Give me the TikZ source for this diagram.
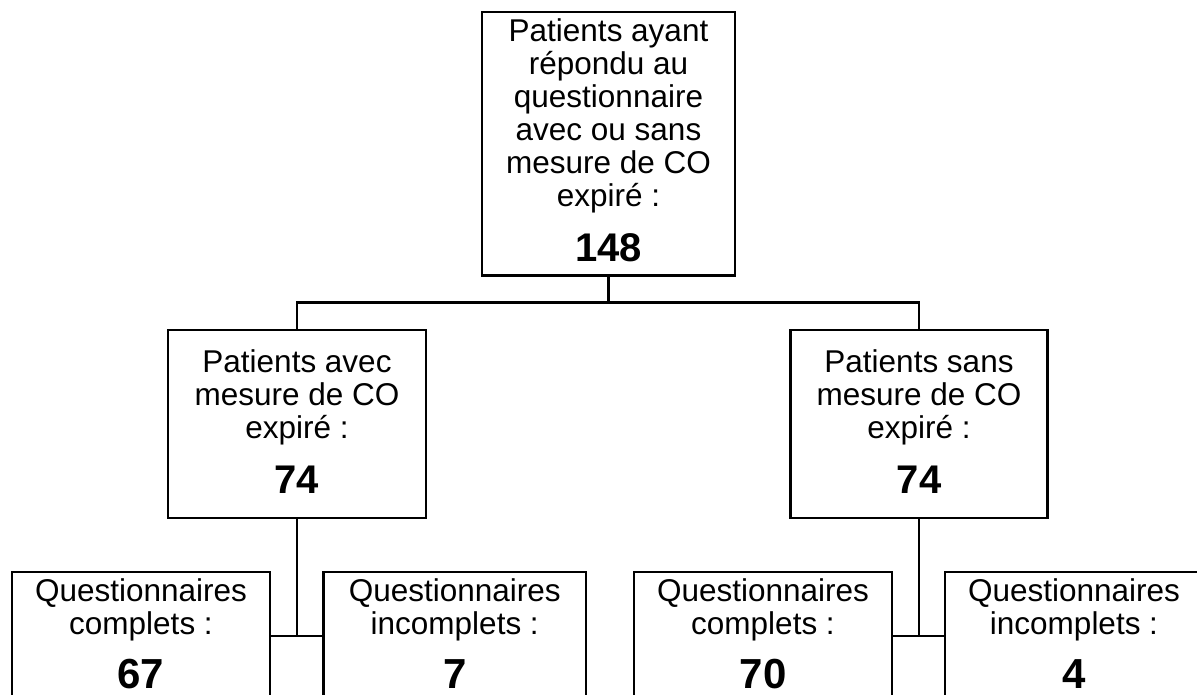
\documentclass[tikz,border=0pt]{standalone}
\usepackage{fontspec}
\setmainfont{Liberation Sans}
\begin{document}
\begin{tikzpicture}[x=1pt,y=-1pt,
  box/.style={draw, line width=2.7pt, rectangle, inner sep=0pt, outer sep=0pt},
  conn/.style={line width=2.7pt},
  lbl/.style={anchor=base, inner sep=0pt, font=\fontsize{31.5}{32.8}\selectfont},
  num/.style={anchor=base, inner sep=0pt, font=\bfseries\fontsize{40}{42}\selectfont},
  bignum/.style={anchor=base, inner sep=0pt, font=\bfseries\fontsize{42}{44}\selectfont}]
\useasboundingbox (0,0) rectangle (1197,695);
\clip (0,0) rectangle (1197,695);
\renewcommand\arraystretch{1}
% boxes
\node[box, minimum width=253, minimum height=263.5] (top) at (608.5,143.75) {};
\node[box, minimum width=258, minimum height=188] (midL) at (297,424) {};
\node[box, minimum width=256.6, minimum height=188] (midR) at (919,424) {};
\node[box, minimum width=258, minimum height=188] (bot1) at (141,666) {};
\node[box, minimum width=262.5, minimum height=188] (bot2) at (454.75,666) {};
\node[box, minimum width=258, minimum height=188] (bot3) at (763,666) {};
\node[box, minimum width=258, minimum height=188] (bot4) at (1074,666) {};
% texts
\node[lbl] (ttop) at (608.5,41.7) {\begin{tabular}[t]{@{}c@{}}Patients ayant\\répondu au\\questionnaire\\avec ou sans\\mesure de CO\\expiré :\end{tabular}};
\node[num] (ntop) at (608.5,261.5) {148};
\node[lbl] (tmidL) at (297,372.5) {\begin{tabular}[t]{@{}c@{}}Patients avec\\mesure de CO\\expiré :\end{tabular}};
\node[num] (nmidL) at (297,493.3) {74};
\node[lbl] (tmidR) at (919,372.5) {\begin{tabular}[t]{@{}c@{}}Patients sans\\mesure de CO\\expiré :\end{tabular}};
\node[num] (nmidR) at (919,493.3) {74};
\node[lbl] (tbot1) at (141,601.7) {\begin{tabular}[t]{@{}c@{}}Questionnaires\\complets :\end{tabular}};
\node[bignum] (nbot1) at (141,688) {67};
\node[lbl] (tbot2) at (454.75,601.7) {\begin{tabular}[t]{@{}c@{}}Questionnaires\\incomplets :\end{tabular}};
\node[bignum] (nbot2) at (454.75,688) {7};
\node[lbl] (tbot3) at (763,601.7) {\begin{tabular}[t]{@{}c@{}}Questionnaires\\complets :\end{tabular}};
\node[bignum] (nbot3) at (763,688) {70};
\node[lbl] (tbot4) at (1074,601.7) {\begin{tabular}[t]{@{}c@{}}Questionnaires\\incomplets :\end{tabular}};
\node[bignum] (nbot4) at (1074,688) {4};
% connectors
\coordinate (j0) at (608.5,302.7);
\coordinate (jL) at (297,636);
\coordinate (jR) at (919,636);
\draw[conn] (top.south) -- (j0);
\draw[conn] (midL.north) |- (j0) -| (midR.north);
\draw[conn] (midL.south) -- (jL);
\draw[conn] (bot1.east |- jL) -- (bot2.west |- jL);
\draw[conn] (midR.south) -- (jR);
\draw[conn] (bot3.east |- jR) -- (bot4.west |- jR);
\end{tikzpicture}
\end{document}
